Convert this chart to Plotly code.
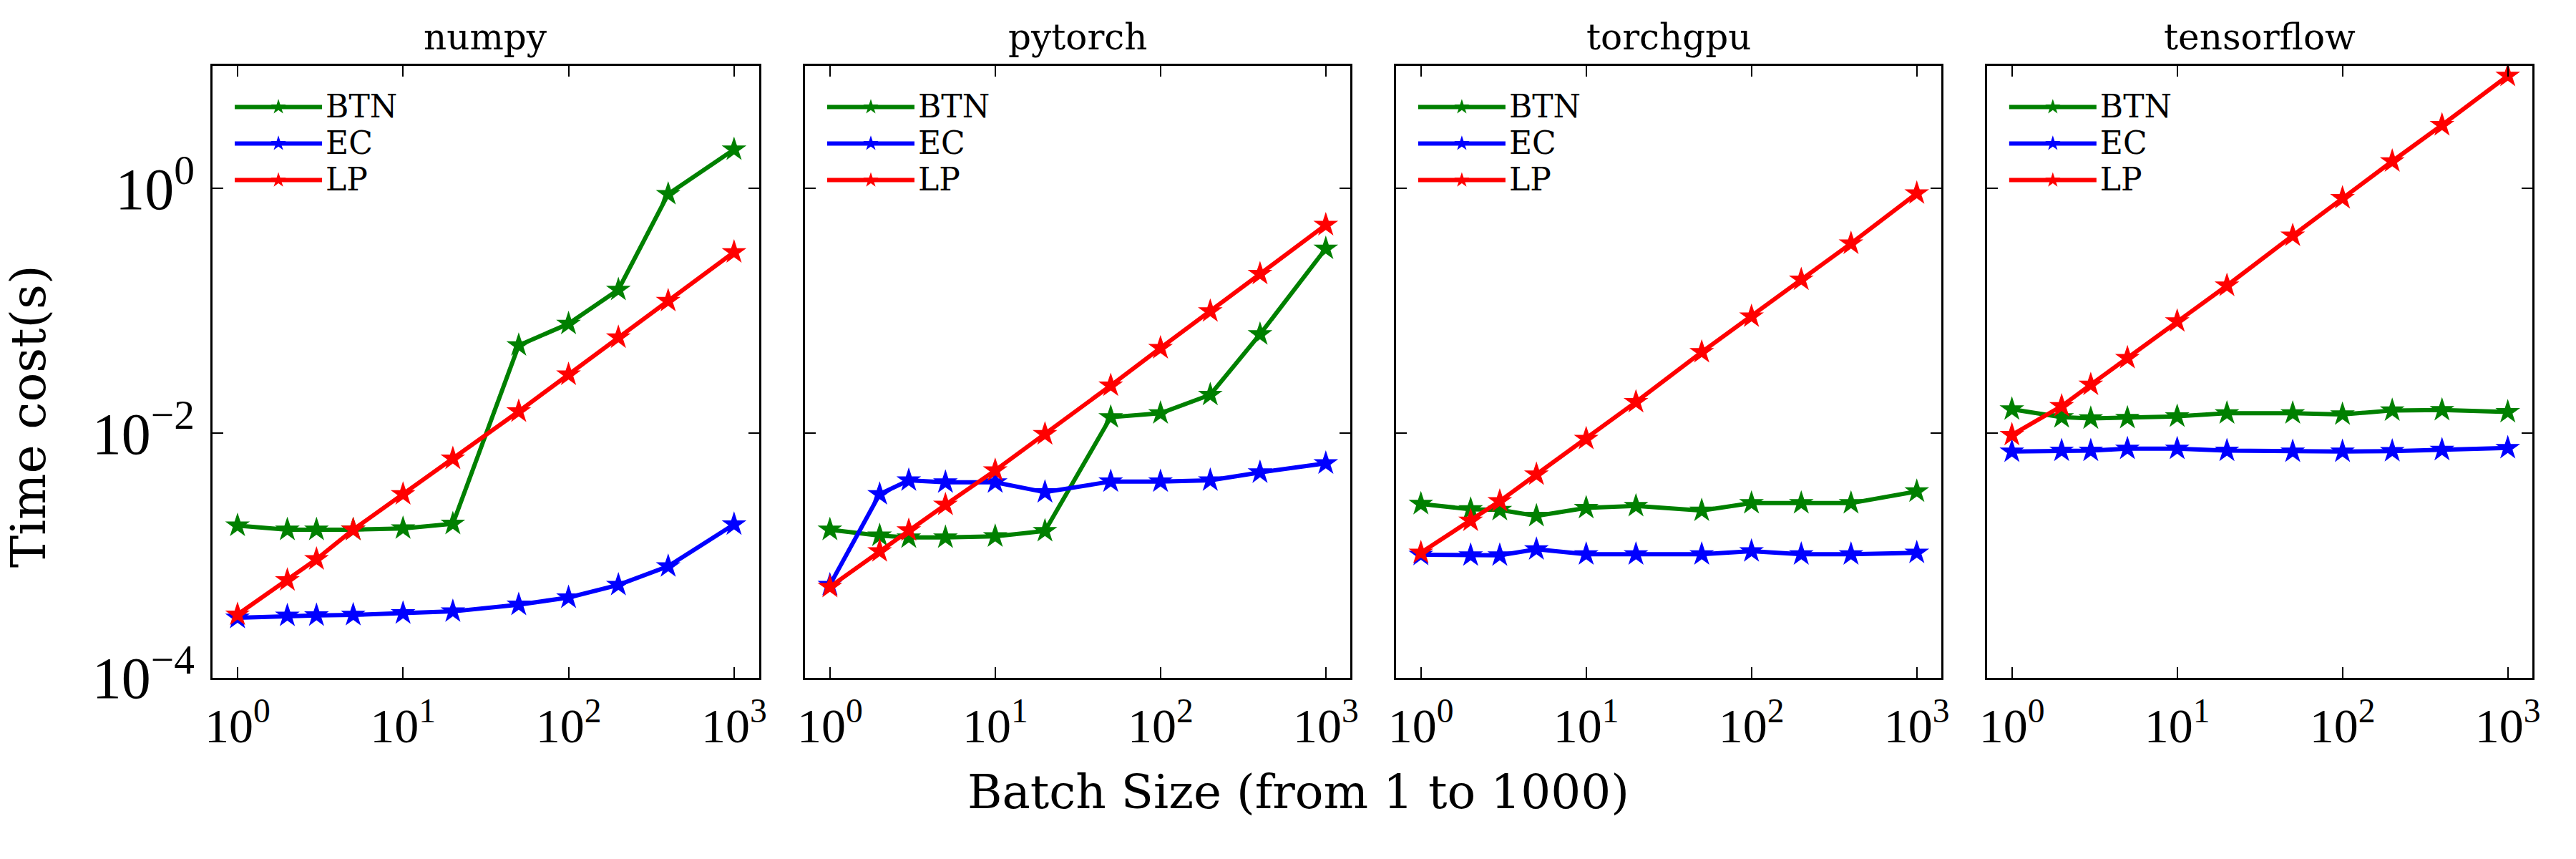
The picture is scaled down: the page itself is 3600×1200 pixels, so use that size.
import plotly.graph_objects as go

# ---------------- data ----------------
batch_sizes = [1, 2, 3, 5, 10, 20, 50, 100, 200, 400, 1000]
frameworks = ["numpy", "pytorch", "torchgpu", "tensorflow"]
methods = ["BTN", "EC", "LP"]

numpy_btn = [1.75e-3, 1.62e-3, 1.62e-3, 1.62e-3, 1.66e-3, 1.81e-3, 0.052, 0.078, 0.148, 0.895, 2.07]
numpy_ec = [3.09e-4, 3.21e-4, 3.23e-4, 3.26e-4, 3.36e-4, 3.48e-4, 3.95e-4, 4.52e-4, 5.73e-4, 8.13e-4, 1.79e-3]
numpy_lp = [3.28e-4, 6.26e-4, 9.29e-4, 1.62e-3, 3.16e-3, 6.17e-3, 0.0150, 0.0300, 0.0603, 0.120, 0.300]

pytorch_btn = [1.62e-3, 1.45e-3, 1.40e-3, 1.40e-3, 1.43e-3, 1.58e-3, 0.01345, 0.01449, 0.0205, 0.064, 0.321]
pytorch_ec = [5.73e-4, 3.16e-3, 4.10e-3, 3.95e-3, 3.95e-3, 3.28e-3, 4.01e-3, 4.01e-3, 4.10e-3, 4.76e-3, 5.65e-3]
pytorch_lp = [5.52e-4, 1.08e-3, 1.60e-3, 2.59e-3, 4.94e-3, 9.78e-3, 0.0244, 0.0494, 0.0986, 0.1995, 0.501]

torchgpu_btn = [2.63e-3, 2.38e-3, 2.35e-3, 2.10e-3, 2.44e-3, 2.53e-3, 2.32e-3, 2.67e-3, 2.67e-3, 2.67e-3, 3.33e-3]
torchgpu_ec = [1.01e-3, 1.00e-3, 1.00e-3, 1.12e-3, 1.02e-3, 1.02e-3, 1.02e-3, 1.08e-3, 1.02e-3, 1.02e-3, 1.05e-3]
torchgpu_lp = [1.05e-3, 1.92e-3, 2.77e-3, 4.58e-3, 8.95e-3, 0.0179, 0.0458, 0.0895, 0.179, 0.353, 0.908]

tensorflow_btn = [0.0156, 0.01345, 0.01316, 0.01326, 0.01365, 0.01449, 0.01449, 0.01418, 0.01527, 0.01538, 0.01483]
tensorflow_ec = [7.05e-3, 7.16e-3, 7.16e-3, 7.43e-3, 7.43e-3, 7.16e-3, 7.05e-3, 7.05e-3, 7.11e-3, 7.27e-3, 7.54e-3]
tensorflow_lp = [9.64e-3, 0.01657, 0.0248, 0.041, 0.0818, 0.160, 0.410, 0.830, 1.66, 3.28, 8.30]

x_tick_vals = [1, 10, 100, 1000]
x_tick_text = ["10<sup>0</sup>", "10<sup>1</sup>", "10<sup>2</sup>", "10<sup>3</sup>"]
y_tick_vals = [1e-4, 1e-2, 1]
y_tick_text = ["10<sup>\u22124</sup>", "10<sup>\u22122</sup>", "10<sup>0</sup>"]

x_title = "Batch Size (from 1 to 1000)"
y_title = "Time cost(s)"

series = {
    "numpy": [numpy_btn, numpy_ec, numpy_lp],
    "pytorch": [pytorch_btn, pytorch_ec, pytorch_lp],
    "torchgpu": [torchgpu_btn, torchgpu_ec, torchgpu_lp],
    "tensorflow": [tensorflow_btn, tensorflow_ec, tensorflow_lp],
}

# ---------------- style / layout ----------------
W, H = 3600, 1200
colors = ["#008000", "#0000FF", "#FF0000"]
panel_px = [(288, 1056), (1121, 1888), (1952, 2719), (2783, 3550)]
top_px, bot_px = 95.7, 985.3
text_font = "DejaVu Serif"
tick_font = "Liberation Serif"
legend_label_size = 44

fig = go.Figure()
layout = dict(
    width=W, height=H,
    margin=dict(l=0, r=0, t=0, b=0, pad=0),
    paper_bgcolor="white", plot_bgcolor="white",
    showlegend=True,
    annotations=[],
)

ydom = [1 - bot_px / H, 1 - top_px / H]

for i, fw in enumerate(frameworks):
    n = "" if i == 0 else str(i + 1)
    xa, ya = "x" + n, "y" + n
    leg = "legend" + n
    for j, m in enumerate(methods):
        fig.add_trace(go.Scatter(
            x=batch_sizes, y=series[fw][j],
            name='<span style="font-size:%dpx">%s</span>' % (legend_label_size, m),
            mode="lines+markers",
            line=dict(color=colors[j], width=6),
            marker=dict(symbol="star", size=26, color=colors[j], line=dict(width=0)),
            xaxis=xa, yaxis=ya, legend=leg,
        ))
    x0, x1 = panel_px[i]
    layout["xaxis" + n] = dict(
        domain=[x0 / W, x1 / W], anchor=ya, type="log", range=[-0.15, 3.15],
        tickvals=x_tick_vals, ticktext=x_tick_text,
        ticks="inside", ticklen=15, tickwidth=2, tickcolor="black",
        showline=True, linecolor="black", linewidth=3, mirror="ticks",
        showgrid=False, zeroline=False,
        tickfont=dict(family=tick_font, size=68, color="black"),
        ticklabelstandoff=6,
    )
    layout["yaxis" + n] = dict(
        domain=ydom, anchor=xa, type="log", range=[-4, 1],
        tickvals=y_tick_vals, ticktext=y_tick_text,
        ticks="inside", ticklen=15, tickwidth=2, tickcolor="black",
        showline=True, linecolor="black", linewidth=3, mirror="ticks",
        showgrid=False, zeroline=False,
        showticklabels=(i == 0),
        tickfont=dict(family=tick_font, size=82, color="black"),
        ticklabelstandoff=6,
    )
    layout[leg] = dict(
        x=(x0 + 26) / W, y=1 - (top_px + 28) / H, xanchor="left", yanchor="top",
        bgcolor="rgba(0,0,0,0)", borderwidth=0,
        font=dict(family=text_font, size=37, color="black"),
        itemwidth=122, tracegroupgap=0,
    )
    layout["annotations"].append(dict(
        text=fw, x=(x0 + x1) / 2 / W, y=1 - 54 / H, xref="paper", yref="paper",
        xanchor="center", yanchor="middle", showarrow=False,
        font=dict(family=text_font, size=50, color="black"),
    ))

layout["annotations"].append(dict(
    text=x_title, x=1815 / W, y=1 - 1152 / H, xref="paper", yref="paper",
    xanchor="center", yanchor="middle", showarrow=False,
    font=dict(family=text_font, size=66, color="black"),
))
layout["annotations"].append(dict(
    text=y_title, x=28 / W, y=1 - 605 / H, xref="paper", yref="paper",
    xanchor="center", yanchor="middle", showarrow=False, textangle=-90,
    font=dict(family=text_font, size=68, color="black"),
))

fig.update_layout(**layout)
fig.write_html(
    "out.html",
    config={"displayModeBar": False},
    post_script="document.body.style.margin='0px';document.body.style.overflow='hidden';",
)
